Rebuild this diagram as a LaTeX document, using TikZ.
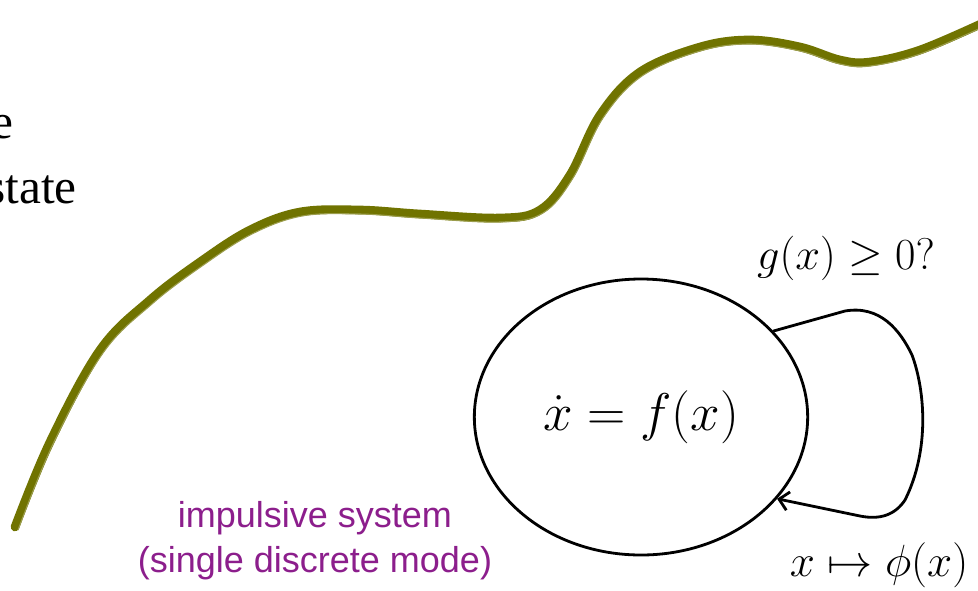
\documentclass[tikz,border=0pt]{standalone}
\usepackage{graphicx}
\usepackage{fontspec}
\setmainfont{Liberation Serif}
\newfontfamily\purplefont{Liberation Sans}
\usetikzlibrary{shapes.geometric,arrows.meta}
\definecolor{chalkolive}{RGB}{112,115,0}
\definecolor{impurple}{RGB}{140,30,140}
\newcommand{\bigmath}[2]{\scalebox{#1}{\Huge$#2$}}
\tikzset{
  modebox/.style={ellipse,draw,line width=2.1pt,minimum width=250pt,minimum height=207pt,inner sep=0pt},
  edgelabel/.style={inner sep=0pt},
  chalk/.style={draw=chalkolive,line width=6.5pt,line cap=round,line join=round},
  chalkfringe/.style={draw=chalkolive!70,line width=0.8pt,line cap=round},
  loopedge/.style={line width=2.1pt,-{Straight Barb[length=7pt,width=14pt,line width=2.1pt]}},
  purpletext/.style={text=impurple,align=center,inner sep=0pt,font=\purplefont\fontsize{27}{34}\selectfont},
  sidetext/.style={anchor=base east,inner sep=0pt,font=\fontsize{37}{44}\selectfont}
}
\begin{document}
\begin{tikzpicture}[x=0.75pt,y=-0.75pt]
\useasboundingbox (0,0) rectangle (978,590);
\clip (0,0) rectangle (978,590);
% chalk curve
\path[chalk] plot[smooth,tension=0.6] coordinates {(15,527) (50,442) (100,350) (150,300) (200,262) (250,230) (300,212) (360,210) (420,214) (500,218) (540,210) (570,175) (600,115) (640,72) (700,47) (750,40) (800,47) (840,60) (870,62) (920,50) (985,22)};
\path[chalkfringe] plot[smooth,tension=0.6] coordinates {(18,530) (53,444) (103,353) (152,304) (202,266) (252,234) (302,216) (360,214) (420,218) (500,222) (543,213) (573,178) (603,118) (642,76) (700,51) (750,44) (800,51) (840,64) (870,66) (920,54) (985,26)};
% left text
\node[sidetext] (e) at (14,138) {e};
\node[sidetext] (state) at (77,203) {state};
% mode
\node[modebox] (mode) at (641,417) {\bigmath{1.6}{\dot{x} = f(x)}};
\coordinate (l1) at (845,311);
\coordinate (l2) at (860,516);
\draw[loopedge] (mode.33) -- (l1) .. controls (880,305) and (900,330) .. (912,355) .. controls (925,390) and (930,450) .. (905,500) .. controls (895,515) and (880,520) .. (l2) -- (mode.-31);
\node[edgelabel] (guard) at (846,258) {\bigmath{1.34}{g(x)\geq 0?}};
\node[edgelabel] (reset) at (879,565) {\bigmath{1.36}{x\mapsto \phi(x)}};
% purple caption
\node[purpletext] (cap) at (315,541) {impulsive system\\(single discrete mode)};
\end{tikzpicture}
\end{document}
